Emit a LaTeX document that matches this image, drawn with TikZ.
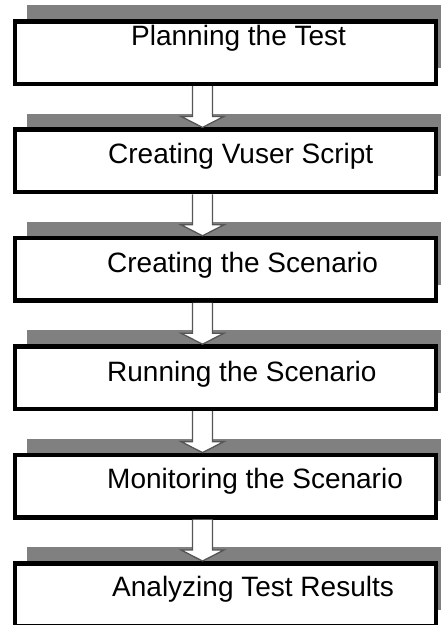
\documentclass[tikz,border=0pt]{standalone}
\usepackage{fontspec}
\setmainfont{Liberation Sans}
\usepackage{tikz}
\usetikzlibrary{calc,positioning,shadows}
\definecolor{band}{HTML}{808080}
\definecolor{arrowline}{HTML}{555555}
\tikzset{
  StageBox/.style={
    rectangle, draw=black, line width=4.5pt, fill=white,
    minimum width=421pt, minimum height=62.5pt,
    general shadow={fill=band, shadow xshift=12.5pt, shadow yshift=16pt}
  },
  StageText/.style={
    anchor=base west, inner sep=0pt,
    font=\fontsize{28}{32}\selectfont
  },
  FlowArrow/.style={
    draw=arrowline, line width=1.3pt, fill=white, line join=miter
  }
}
\newcommand{\StageArrow}[2]{%
  % #1 = upper box, #2 = lower box (hollow block arrow between them)
  \draw[FlowArrow] ($(#1.south)+(-32.75,0)$)
    -- ($(#2.north)+(-32.75,-11)$) -- ($(#2.north)+(-44.25,-11)$)
    -- ($(#2.north)+(-22.75,0)$)
    -- ($(#2.north)+(-1.25,-11)$) -- ($(#2.north)+(-12.75,-11)$)
    -- ($(#1.south)+(-12.75,0)$);
}

\begin{document}
\begin{tikzpicture}[x=1pt, y=-1pt, node distance=41.4pt]
  \useasboundingbox (0,0) rectangle (440,625);

  % the six stages, top to bottom
  \node[StageBox] (plan) at (225.25,52.5) {};
  \node[StageBox, below=of plan] (vuser) {};
  \node[StageBox, below=of vuser] (create) {};
  \node[StageBox, below=of create] (run) {};
  \node[StageBox, below=of run] (monitor) {};
  \node[StageBox, below=of monitor] (analyze) {};

  % captions
  \node[StageText] (plan-t) at ($(plan.north west)+(118.5,26.5)$) {Planning the Test};
  \node[StageText] (vuser-t) at ($(vuser.north west)+(95.5,36)$) {Creating Vuser Script};
  \node[StageText] (create-t) at ($(create.north west)+(94.5,36.8)$) {Creating the Scenario};
  \node[StageText] (run-t) at ($(run.north west)+(94.5,37.5)$) {Running the Scenario};
  \node[StageText] (monitor-t) at ($(monitor.north west)+(94.5,35.7)$) {Monitoring the Scenario};
  \node[StageText] (analyze-t) at ($(analyze.north west)+(99.5,35.7)$) {Analyzing Test Results};

  % arrows between stages
  \StageArrow{plan}{vuser}
  \StageArrow{vuser}{create}
  \StageArrow{create}{run}
  \StageArrow{run}{monitor}
  \StageArrow{monitor}{analyze}
\end{tikzpicture}
\end{document}
